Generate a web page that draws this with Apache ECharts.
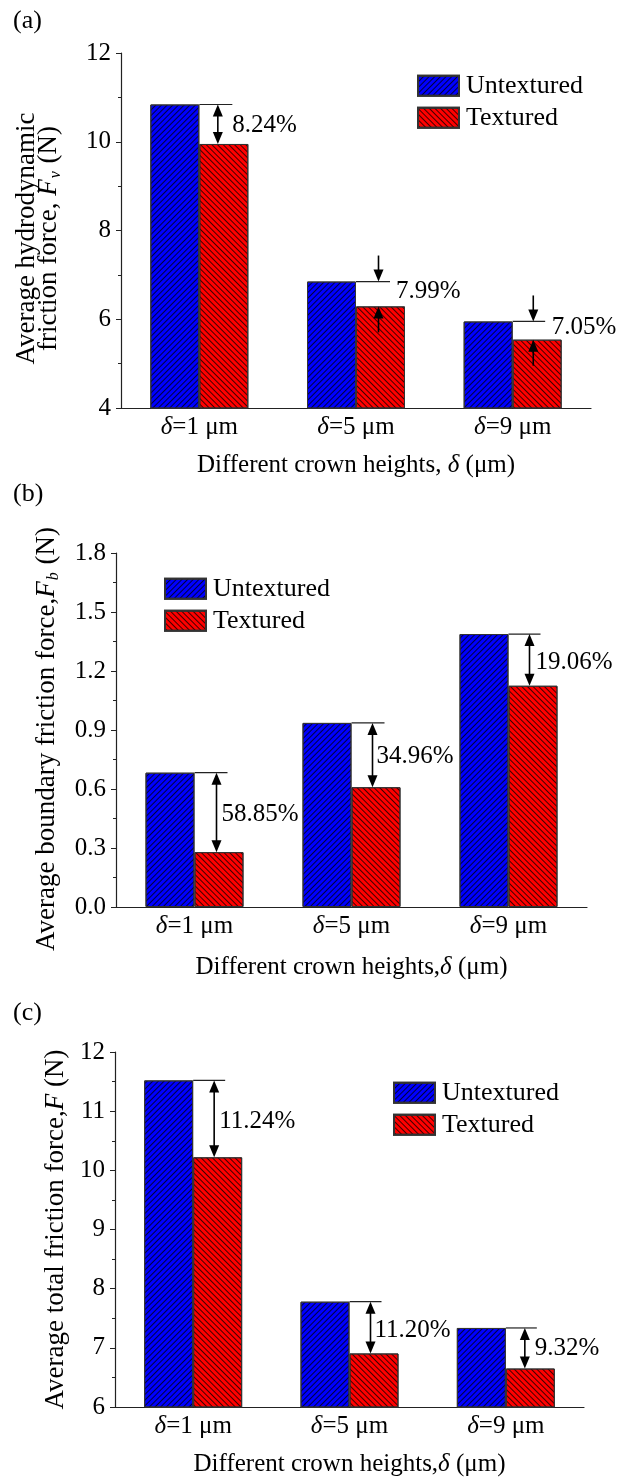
<!DOCTYPE html>
<html><head><meta charset="utf-8">
<script src="https://cdn.jsdelivr.net/npm/echarts@6/dist/echarts.min.js"></script>
<style>html,body{margin:0;padding:0;background:#fff}#c{width:620px;height:1479px}</style>
</head><body><div id="c"></div>
<script>
// ---------- data ----------
const categories = ['δ=1 μm', 'δ=5 μm', 'δ=9 μm'];
const seriesNames = ['Untextured', 'Textured'];

// (a) hydrodynamic friction force
const hydroUntextured = [10.84, 6.85, 5.95];
const hydroTextured   = [9.95, 6.29, 5.54];
const hydroReduction  = ['8.24%', '7.99%', '7.05%'];
const hydroTicks = [4, 12, 2];

// (b) boundary friction force
const boundaryUntextured = [0.683, 0.936, 1.388];
const boundaryTextured   = [0.279, 0.609, 1.125];
const boundaryReduction  = ['58.85%', '34.96%', '19.06%'];
const boundaryTicks = [0, 1.8, 0.3];

// (c) total friction force
const totalUntextured = [11.52, 7.78, 7.336];
const totalTextured   = [10.22, 6.905, 6.65];
const totalReduction  = ['11.24%', '11.20%', '9.32%'];
const totalTicks = [6, 12, 1];

// ---------- layout / style ----------
const FONT = "'Liberation Serif','Times New Roman',serif";
const AX = '#222';
const grids = [
  {left: 121, top: 53, width: 470, height: 355},
  {left: 116, top: 553, width: 471, height: 354},
  {left: 115, top: 1052, width: 469, height: 355}
];
const annoLayout = [
  {line: [33, 34, 32.5], arrow: [18.5, 22.5, 20.6], text: [33, 40, 39], dy: [1, -2.5, -3.5], outer: [false, true, true], len: 26},
  {line: [33, 33, 32], arrow: [22, 21, 21], text: [27, 25, 27], dy: [2.5, 1.5, 2.5], outer: [false, false, false], len: 26},
  {line: [32, 32, 31], arrow: [21, 21, 19], text: [26, 25, 29], dy: [2.5, 2.5, 0], outer: [false, false, false], len: 26}
];
const yNames = [
  '{t|Average hydrodynamic}\n{t|friction force, }{i|F}{s|v}{t| (N)}',
  '{t|Average boundary friction force,}{i|F}{s|b}{t| (N)}',
  '{t|Average total friction force,}{i|F}{t| (N)}'
];
const yNameGaps = [61, 58, 46];
const yNamePads = [[0, 16, 0, 0], [0, 18, 0, 0], [0, 0, 0, 0]];
const xNames = [
  '{t|Different crown heights, }{i|δ}{t| (μm)}',
  '{t|Different crown heights,}{i|δ}{t| (μm)}',
  '{t|Different crown heights,}{i|δ}{t| (μm)}'
];
const xNameGaps = [45, 48, 45];
const legendPos = [
  {left: 417, top: 72.7},
  {left: 164, top: 575.7},
  {left: 393, top: 1079.7}
];
const panelLabels = [['(a)', 13, 8], ['(b)', 13, 481], ['(c)', 13, 1000]];

const richBase = {
  t: {fontFamily: FONT, fontSize: 25, color: '#000'},
  i: {fontFamily: FONT, fontSize: 25, fontStyle: 'italic', color: '#000'},
  s: {fontFamily: FONT, fontSize: 15, fontStyle: 'italic', color: '#000', padding: [12, 0, 0, 1]}
};
const richName = {
  t: {fontFamily: FONT, fontSize: 27, color: '#000', lineHeight: 22},
  i: {fontFamily: FONT, fontSize: 27, fontStyle: 'italic', color: '#000', lineHeight: 22},
  s: {fontFamily: FONT, fontSize: 16, fontStyle: 'italic', color: '#000', lineHeight: 22, padding: [13, 1, 0, 1]}
};

const decalBlue = {symbol: 'rect', symbolSize: 1, dashArrayX: [1, 0], dashArrayY: [1, 2.6], rotation: -Math.PI / 4, color: 'rgba(0,0,30,0.85)'};
const decalRed  = {symbol: 'rect', symbolSize: 1, dashArrayX: [1, 0], dashArrayY: [1, 2.3], rotation: Math.PI / 4, color: 'rgba(30,0,0,0.85)'};

const panels = [
  [hydroUntextured, hydroTextured, hydroReduction, hydroTicks],
  [boundaryUntextured, boundaryTextured, boundaryReduction, boundaryTicks],
  [totalUntextured, totalTextured, totalReduction, totalTicks]
];

function annoSeries(gi, untex, tex, pcts, lay) {
  return {
    type: 'custom', xAxisIndex: gi, yAxisIndex: gi, silent: true, z: 10, clip: false,
    data: untex.map((u, i) => [i, u, tex[i]]),
    renderItem: function (params, api) {
      const i = params.dataIndex;
      const top = api.coord([api.value(0), api.value(1)]);
      const bot = api.coord([api.value(0), api.value(2)]);
      const cx = top[0], yT = top[1], yB = bot[1];
      const ax = cx + lay.arrow[i];
      const hw = 5, hl = 12;
      const st = {stroke: '#000', lineWidth: 1.6};
      const ch = [{type: 'line', shape: {x1: cx, y1: yT, x2: cx + lay.line[i], y2: yT}, style: {stroke: AX, lineWidth: 1.2}}];
      if (!lay.outer[i]) {
        ch.push({type: 'line', shape: {x1: ax, y1: yT + hl - 1, x2: ax, y2: yB - hl + 1}, style: st});
        ch.push({type: 'polygon', shape: {points: [[ax, yT], [ax - hw, yT + hl], [ax + hw, yT + hl]]}, style: {fill: '#000'}});
        ch.push({type: 'polygon', shape: {points: [[ax, yB], [ax - hw, yB - hl], [ax + hw, yB - hl]]}, style: {fill: '#000'}});
      } else {
        const L = lay.len;
        ch.push({type: 'line', shape: {x1: ax, y1: yT - L, x2: ax, y2: yT - hl + 1}, style: st});
        ch.push({type: 'polygon', shape: {points: [[ax, yT], [ax - hw, yT - hl], [ax + hw, yT - hl]]}, style: {fill: '#000'}});
        ch.push({type: 'line', shape: {x1: ax, y1: yB + L, x2: ax, y2: yB + hl - 1}, style: st});
        ch.push({type: 'polygon', shape: {points: [[ax, yB], [ax - hw, yB + hl], [ax + hw, yB + hl]]}, style: {fill: '#000'}});
      }
      ch.push({type: 'text', style: {
        text: pcts[i], x: cx + lay.text[i], y: (yT + yB) / 2 + lay.dy[i],
        align: 'left', verticalAlign: 'middle', font: '25px ' + FONT, fill: '#000'
      }});
      return {type: 'group', children: ch};
    }
  };
}

const option = {
  animation: false,
  backgroundColor: '#fff',
  grid: grids,
  graphic: panelLabels.map(p => ({type: 'text', left: p[1], top: p[2], style: {text: p[0], font: '26px ' + FONT, fill: '#000'}})),
  legend: legendPos.map(p => ({
    data: seriesNames.map(n => ({name: n, icon: 'rect'})), orient: 'vertical', left: p.left, top: p.top,
    itemWidth: 41, itemHeight: 20, itemGap: 6, padding: 0, selectedMode: false,
    textStyle: {fontFamily: FONT, fontSize: 26, color: '#000', padding: [0, 0, 0, 2]}
  })),
  xAxis: grids.map((g, gi) => ({
    type: 'category', gridIndex: gi, data: categories, boundaryGap: true,
    axisLine: {lineStyle: {color: AX, width: 1.2}},
    axisTick: {show: false},
    axisLabel: {margin: 7, formatter: v => '{i|δ}{t|' + v.slice(1) + '}', rich: richBase},
    name: xNames[gi], nameLocation: 'middle', nameGap: xNameGaps[gi],
    nameTextStyle: {rich: richBase}
  })),
  yAxis: panels.map((p, gi) => ({
    type: 'value', gridIndex: gi, min: p[3][0], max: p[3][1], interval: p[3][2],
    axisLine: {show: true, lineStyle: {color: AX, width: 1.2}},
    axisTick: {show: true, length: 5, lineStyle: {color: AX}},
    minorTick: {show: true, splitNumber: 2, length: 3, lineStyle: {color: AX}},
    splitLine: {show: false},
    axisLabel: {margin: 10, fontFamily: FONT, fontSize: 25, color: '#000',
      formatter: v => gi === 1 ? v.toFixed(1) : String(v)},
    name: yNames[gi], nameLocation: 'middle', nameRotate: 90, nameGap: yNameGaps[gi],
    nameTextStyle: {lineHeight: 22, padding: yNamePads[gi], rich: richName}
  })),
  series: [].concat(...panels.map((p, gi) => [
    {name: seriesNames[0], type: 'bar', xAxisIndex: gi, yAxisIndex: gi, data: p[0],
     barWidth: 49, barGap: '0%',
     itemStyle: {color: '#0000ff', borderColor: '#333', borderWidth: 1, decal: decalBlue}},
    {name: seriesNames[1], type: 'bar', xAxisIndex: gi, yAxisIndex: gi, data: p[1],
     barWidth: 49, barGap: '0%',
     itemStyle: {color: '#ff0000', borderColor: '#333', borderWidth: 1, decal: decalRed}},
    annoSeries(gi, p[0], p[1], p[2], annoLayout[gi])
  ]))
};

const chart = echarts.init(document.getElementById('c'), null, {renderer: 'canvas'});
chart.setOption(option);
</script>
</body></html>
